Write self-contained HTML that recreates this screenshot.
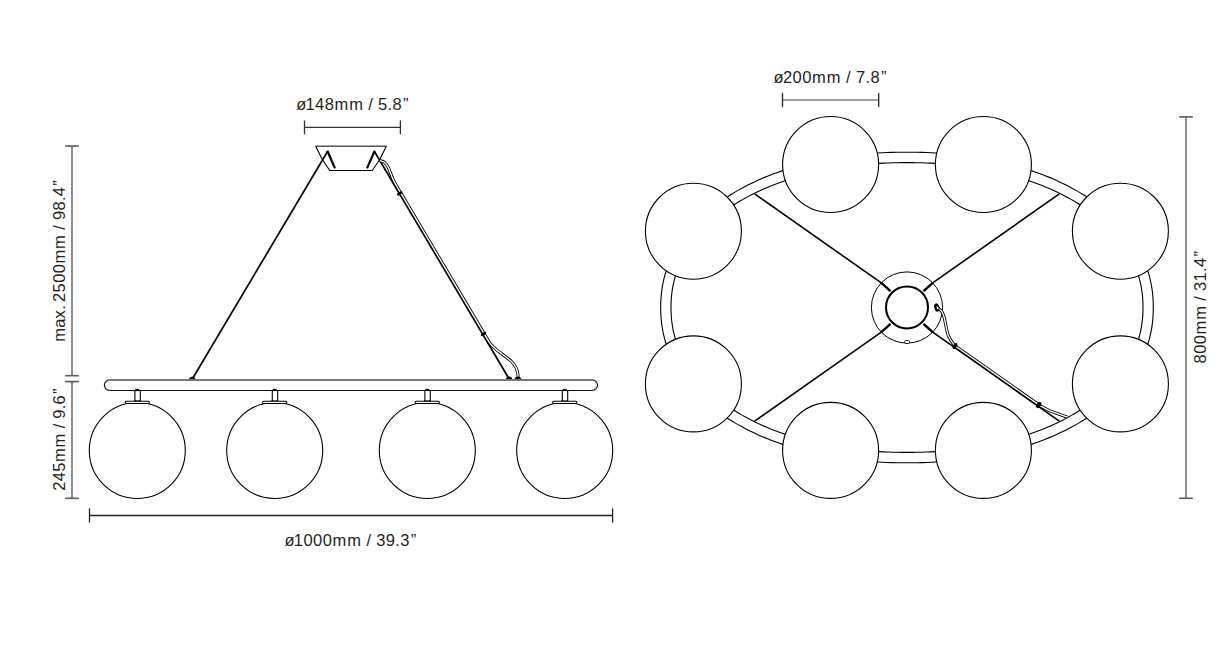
<!DOCTYPE html>
<html><head><meta charset="utf-8"><style>
html,body{margin:0;padding:0;background:#fff;width:1227px;height:658px;overflow:hidden}
svg{display:block}
text{font-family:"Liberation Sans",sans-serif}
</style></head><body>
<svg width="1227" height="658" viewBox="0 0 1227 658">
<line x1="72" y1="146.0" x2="72" y2="375.7" stroke="#888" stroke-width="1.9"/><line x1="65.15" y1="146.0" x2="78.85" y2="146.0" stroke="#5a5a5a" stroke-width="1.6"/><line x1="65.15" y1="375.7" x2="78.85" y2="375.7" stroke="#5a5a5a" stroke-width="1.6"/>
<line x1="72" y1="381.6" x2="72" y2="498.3" stroke="#888" stroke-width="1.9"/><line x1="65.15" y1="381.6" x2="78.85" y2="381.6" stroke="#5a5a5a" stroke-width="1.6"/><line x1="65.15" y1="498.3" x2="78.85" y2="498.3" stroke="#5a5a5a" stroke-width="1.6"/>
<line x1="89.5" y1="515.5" x2="612.6" y2="515.5" stroke="#222" stroke-width="1.3"/><line x1="89.5" y1="508.4" x2="89.5" y2="522.6" stroke="#222" stroke-width="1.3"/><line x1="612.6" y1="508.4" x2="612.6" y2="522.6" stroke="#222" stroke-width="1.3"/>
<line x1="304.5" y1="127.4" x2="400.4" y2="127.4" stroke="#333" stroke-width="1.3"/><line x1="304.5" y1="120.4" x2="304.5" y2="134.4" stroke="#333" stroke-width="1.3"/><line x1="400.4" y1="120.4" x2="400.4" y2="134.4" stroke="#333" stroke-width="1.3"/>
<line x1="782.5" y1="100" x2="878.7" y2="100" stroke="#808080" stroke-width="1.4"/><line x1="782.5" y1="92.9" x2="782.5" y2="107.1" stroke="#333" stroke-width="1.4"/><line x1="878.7" y1="92.9" x2="878.7" y2="107.1" stroke="#333" stroke-width="1.4"/>
<line x1="1186" y1="116.9" x2="1186" y2="498.3" stroke="#888" stroke-width="1.9"/><line x1="1179.15" y1="116.9" x2="1192.85" y2="116.9" stroke="#5a5a5a" stroke-width="1.6"/><line x1="1179.15" y1="498.3" x2="1192.85" y2="498.3" stroke="#5a5a5a" stroke-width="1.6"/>
<g fill="none" stroke="#000" stroke-width="1.1" stroke-linejoin="round">
<line x1="315.1" y1="146.2" x2="386.8" y2="146.2" stroke="#555" stroke-width="1.4"/>
<polyline points="315.8,146.5 322.6,160 329.7,170.5 372.3,170.5 379.4,160 386.2,146.5" stroke-width="1.1"/>
</g>
<g stroke="#000" stroke-width="1.7" fill="none" stroke-linecap="butt" stroke-linejoin="round">
<polyline points="192.3,379 327.7,151.2"/>
<polyline points="509.2,379 374.3,151.2"/>
<polyline points="327.3,150.8 335,168.4" stroke-width="2.2"/>
<polyline points="374.7,150.8 367,168.4" stroke-width="2.2"/>
</g>
<path d="M379.90,160.60 C380.65,160.87 383.07,161.18 384.40,162.20 C385.73,163.22 386.93,165.05 387.90,166.70 C388.87,168.35 389.38,170.07 390.20,172.10 C391.02,174.13 391.73,176.58 392.80,178.90 C393.87,181.22 395.31,183.72 396.60,186.00 C397.90,188.28 399.91,191.50 400.57,192.60 L483.95,333.4 C485.26,335.42 488.73,342.03 491.80,345.50 C494.88,348.97 499.12,351.53 502.40,354.20 C505.68,356.87 509.22,359.22 511.50,361.50 C513.78,363.78 515.03,365.77 516.10,367.90 C517.17,370.03 517.60,372.48 517.90,374.30 C518.20,376.12 517.90,378.05 517.90,378.80" fill="none" stroke="#000" stroke-width="3.1"/>
<path d="M379.90,160.60 C380.65,160.87 383.07,161.18 384.40,162.20 C385.73,163.22 386.93,165.05 387.90,166.70 C388.87,168.35 389.38,170.07 390.20,172.10 C391.02,174.13 391.73,176.58 392.80,178.90 C393.87,181.22 395.31,183.72 396.60,186.00 C397.90,188.28 399.91,191.50 400.57,192.60 L483.95,333.4 C485.26,335.42 488.73,342.03 491.80,345.50 C494.88,348.97 499.12,351.53 502.40,354.20 C505.68,356.87 509.22,359.22 511.50,361.50 C513.78,363.78 515.03,365.77 516.10,367.90 C517.17,370.03 517.60,372.48 517.90,374.30 C518.20,376.12 517.90,378.05 517.90,378.80" fill="none" stroke="#fff" stroke-width="1.35"/>
<g fill="#000"><ellipse cx="399.7" cy="193.4" rx="3.1" ry="1.5" transform="rotate(-30.6 399.7 193.4)"/><ellipse cx="483.5" cy="334.0" rx="3.1" ry="1.5" transform="rotate(-30.6 483.5 334.0)"/><path d="M188.8,380 Q189.5,376.8 192.3,376.8 Q195.1,376.8 195.8,380Z"/><path d="M505.6,380 Q506.3,376.6 509.1,376.6 Q511.9,376.6 512.6,380Z"/><path d="M514.4,380 Q515.1,376.6 517.9,376.6 Q520.7,376.6 521.6,380Z"/></g>
<path d="M109.7,390.4 A5.3,5.3 0 0 1 109.7,379.8" fill="none" stroke="#111" stroke-width="1.2"/>
<path d="M592.2,379.8 A5.3,5.3 0 0 1 592.2,390.4" fill="none" stroke="#111" stroke-width="1.2"/>
<line x1="109.7" y1="380" x2="592.2" y2="380" stroke="#777" stroke-width="1.9"/>
<line x1="109.7" y1="390.45" x2="592.2" y2="390.45" stroke="#111" stroke-width="1.1"/>
<circle cx="137.30" cy="450.5" r="48" fill="none" stroke="#000" stroke-width="1.1"/>
<line x1="134.90" y1="390.3" x2="134.90" y2="401" stroke="#000" stroke-width="1.1"/>
<line x1="140.30" y1="390.3" x2="140.30" y2="401" stroke="#000" stroke-width="1.1"/>
<rect x="125.20" y="401.3" width="24.2" height="2.2" rx="1.1" fill="#fff" stroke="#000" stroke-width="1.1"/>
<path d="M134.70,390.6 Q134.70,388.7 137.30,388.7 Q139.90,388.7 139.90,390.6Z" fill="#000"/>
<path d="M133.50,401.2 Q134.40,400.8 134.40,399.6 L135.10,400.6 L139.50,400.6 L140.20,399.6 Q140.20,400.8 141.10,401.2Z" fill="#000"/>
<circle cx="274.70" cy="450.5" r="48" fill="none" stroke="#000" stroke-width="1.1"/>
<line x1="272.30" y1="390.3" x2="272.30" y2="401" stroke="#000" stroke-width="1.1"/>
<line x1="277.70" y1="390.3" x2="277.70" y2="401" stroke="#000" stroke-width="1.1"/>
<rect x="262.60" y="401.3" width="24.2" height="2.2" rx="1.1" fill="#fff" stroke="#000" stroke-width="1.1"/>
<path d="M272.10,390.6 Q272.10,388.7 274.70,388.7 Q277.30,388.7 277.30,390.6Z" fill="#000"/>
<path d="M270.90,401.2 Q271.80,400.8 271.80,399.6 L272.50,400.6 L276.90,400.6 L277.60,399.6 Q277.60,400.8 278.50,401.2Z" fill="#000"/>
<circle cx="427.30" cy="450.5" r="48" fill="none" stroke="#000" stroke-width="1.1"/>
<line x1="424.90" y1="390.3" x2="424.90" y2="401" stroke="#000" stroke-width="1.1"/>
<line x1="430.30" y1="390.3" x2="430.30" y2="401" stroke="#000" stroke-width="1.1"/>
<rect x="415.20" y="401.3" width="24.2" height="2.2" rx="1.1" fill="#fff" stroke="#000" stroke-width="1.1"/>
<path d="M424.70,390.6 Q424.70,388.7 427.30,388.7 Q429.90,388.7 429.90,390.6Z" fill="#000"/>
<path d="M423.50,401.2 Q424.40,400.8 424.40,399.6 L425.10,400.6 L429.50,400.6 L430.20,399.6 Q430.20,400.8 431.10,401.2Z" fill="#000"/>
<circle cx="564.70" cy="450.5" r="48" fill="none" stroke="#000" stroke-width="1.1"/>
<line x1="562.30" y1="390.3" x2="562.30" y2="401" stroke="#000" stroke-width="1.1"/>
<line x1="567.70" y1="390.3" x2="567.70" y2="401" stroke="#000" stroke-width="1.1"/>
<rect x="552.60" y="401.3" width="24.2" height="2.2" rx="1.1" fill="#fff" stroke="#000" stroke-width="1.1"/>
<path d="M562.10,390.6 Q562.10,388.7 564.70,388.7 Q567.30,388.7 567.30,390.6Z" fill="#000"/>
<path d="M560.90,401.2 Q561.80,400.8 561.80,399.6 L562.50,400.6 L566.90,400.6 L567.60,399.6 Q567.60,400.8 568.50,401.2Z" fill="#000"/>
<path d="M1153.30,307.50 L1153.26,310.91 L1153.16,314.05 L1152.98,317.10 L1152.73,320.10 L1152.42,323.04 L1152.03,325.95 L1151.57,328.82 L1151.04,331.67 L1150.44,334.48 L1149.77,337.28 L1149.03,340.05 L1148.22,342.79 L1147.34,345.51 L1146.39,348.21 L1145.37,350.89 L1144.29,353.55 L1143.13,356.18 L1141.91,358.79 L1140.62,361.38 L1139.26,363.94 L1137.84,366.48 L1136.34,369.00 L1134.79,371.50 L1133.16,373.97 L1131.47,376.41 L1129.71,378.83 L1127.89,381.23 L1126.01,383.60 L1124.06,385.94 L1122.05,388.26 L1119.97,390.55 L1117.83,392.81 L1115.63,395.04 L1113.37,397.25 L1111.05,399.42 L1108.67,401.57 L1106.22,403.69 L1103.72,405.77 L1101.16,407.83 L1098.54,409.85 L1095.87,411.85 L1093.14,413.81 L1090.35,415.73 L1087.51,417.63 L1084.61,419.49 L1081.66,421.32 L1078.65,423.11 L1075.60,424.87 L1072.49,426.59 L1069.33,428.28 L1066.12,429.93 L1062.86,431.54 L1059.55,433.12 L1056.19,434.66 L1052.79,436.16 L1049.34,437.62 L1045.84,439.05 L1042.30,440.44 L1038.71,441.78 L1035.08,443.09 L1031.40,444.36 L1027.69,445.59 L1023.93,446.78 L1020.13,447.93 L1016.29,449.04 L1012.41,450.10 L1008.49,451.13 L1004.54,452.11 L1000.54,453.05 L996.51,453.95 L992.45,454.81 L988.34,455.62 L984.20,456.39 L980.03,457.12 L975.82,457.80 L971.57,458.44 L967.29,459.04 L962.97,459.60 L958.62,460.11 L954.23,460.57 L949.80,461.00 L945.33,461.37 L940.81,461.71 L936.26,462.00 L931.65,462.24 L926.98,462.44 L922.23,462.60 L917.39,462.71 L912.41,462.78 L907.00,462.80 L901.59,462.78 L896.61,462.71 L891.77,462.60 L887.02,462.44 L882.35,462.24 L877.74,462.00 L873.19,461.71 L868.67,461.37 L864.20,461.00 L859.77,460.57 L855.38,460.11 L851.03,459.60 L846.71,459.04 L842.43,458.44 L838.18,457.80 L833.97,457.12 L829.80,456.39 L825.66,455.62 L821.55,454.81 L817.49,453.95 L813.46,453.05 L809.46,452.11 L805.51,451.13 L801.59,450.10 L797.71,449.04 L793.87,447.93 L790.07,446.78 L786.31,445.59 L782.60,444.36 L778.92,443.09 L775.29,441.78 L771.70,440.44 L768.16,439.05 L764.66,437.62 L761.21,436.16 L757.81,434.66 L754.45,433.12 L751.14,431.54 L747.88,429.93 L744.67,428.28 L741.51,426.59 L738.40,424.87 L735.35,423.11 L732.34,421.32 L729.39,419.49 L726.49,417.63 L723.65,415.73 L720.86,413.81 L718.13,411.85 L715.46,409.85 L712.84,407.83 L710.28,405.77 L707.78,403.69 L705.33,401.57 L702.95,399.42 L700.63,397.25 L698.37,395.04 L696.17,392.81 L694.03,390.55 L691.95,388.26 L689.94,385.94 L687.99,383.60 L686.11,381.23 L684.29,378.83 L682.53,376.41 L680.84,373.97 L679.21,371.50 L677.66,369.00 L676.16,366.48 L674.74,363.94 L673.38,361.38 L672.09,358.79 L670.87,356.18 L669.71,353.55 L668.63,350.89 L667.61,348.21 L666.66,345.51 L665.78,342.79 L664.97,340.05 L664.23,337.28 L663.56,334.48 L662.96,331.67 L662.43,328.82 L661.97,325.95 L661.58,323.04 L661.27,320.10 L661.02,317.10 L660.84,314.05 L660.74,310.91 L660.70,307.50 L660.74,304.09 L660.84,300.95 L661.02,297.90 L661.27,294.90 L661.58,291.96 L661.97,289.05 L662.43,286.18 L662.96,283.33 L663.56,280.52 L664.23,277.72 L664.97,274.95 L665.78,272.21 L666.66,269.49 L667.61,266.79 L668.63,264.11 L669.71,261.45 L670.87,258.82 L672.09,256.21 L673.38,253.62 L674.74,251.06 L676.16,248.52 L677.66,246.00 L679.21,243.50 L680.84,241.03 L682.53,238.59 L684.29,236.17 L686.11,233.77 L687.99,231.40 L689.94,229.06 L691.95,226.74 L694.03,224.45 L696.17,222.19 L698.37,219.96 L700.63,217.75 L702.95,215.58 L705.33,213.43 L707.78,211.31 L710.28,209.23 L712.84,207.17 L715.46,205.15 L718.13,203.15 L720.86,201.19 L723.65,199.27 L726.49,197.37 L729.39,195.51 L732.34,193.68 L735.35,191.89 L738.40,190.13 L741.51,188.41 L744.67,186.72 L747.88,185.07 L751.14,183.46 L754.45,181.88 L757.81,180.34 L761.21,178.84 L764.66,177.38 L768.16,175.95 L771.70,174.56 L775.29,173.22 L778.92,171.91 L782.60,170.64 L786.31,169.41 L790.07,168.22 L793.87,167.07 L797.71,165.96 L801.59,164.90 L805.51,163.87 L809.46,162.89 L813.46,161.95 L817.49,161.05 L821.55,160.19 L825.66,159.38 L829.80,158.61 L833.97,157.88 L838.18,157.20 L842.43,156.56 L846.71,155.96 L851.03,155.40 L855.38,154.89 L859.77,154.43 L864.20,154.00 L868.67,153.63 L873.19,153.29 L877.74,153.00 L882.35,152.76 L887.02,152.56 L891.77,152.40 L896.61,152.29 L901.59,152.22 L907.00,152.20 L912.41,152.22 L917.39,152.29 L922.23,152.40 L926.98,152.56 L931.65,152.76 L936.26,153.00 L940.81,153.29 L945.33,153.63 L949.80,154.00 L954.23,154.43 L958.62,154.89 L962.97,155.40 L967.29,155.96 L971.57,156.56 L975.82,157.20 L980.03,157.88 L984.20,158.61 L988.34,159.38 L992.45,160.19 L996.51,161.05 L1000.54,161.95 L1004.54,162.89 L1008.49,163.87 L1012.41,164.90 L1016.29,165.96 L1020.13,167.07 L1023.93,168.22 L1027.69,169.41 L1031.40,170.64 L1035.08,171.91 L1038.71,173.22 L1042.30,174.56 L1045.84,175.95 L1049.34,177.38 L1052.79,178.84 L1056.19,180.34 L1059.55,181.88 L1062.86,183.46 L1066.12,185.07 L1069.33,186.72 L1072.49,188.41 L1075.60,190.13 L1078.65,191.89 L1081.66,193.68 L1084.61,195.51 L1087.51,197.37 L1090.35,199.27 L1093.14,201.19 L1095.87,203.15 L1098.54,205.15 L1101.16,207.17 L1103.72,209.23 L1106.22,211.31 L1108.67,213.43 L1111.05,215.58 L1113.37,217.75 L1115.63,219.96 L1117.83,222.19 L1119.97,224.45 L1122.05,226.74 L1124.06,229.06 L1126.01,231.40 L1127.89,233.77 L1129.71,236.17 L1131.47,238.59 L1133.16,241.03 L1134.79,243.50 L1136.34,246.00 L1137.84,248.52 L1139.26,251.06 L1140.62,253.62 L1141.91,256.21 L1143.13,258.82 L1144.29,261.45 L1145.37,264.11 L1146.39,266.79 L1147.34,269.49 L1148.22,272.21 L1149.03,274.95 L1149.77,277.72 L1150.44,280.52 L1151.04,283.33 L1151.57,286.18 L1152.03,289.05 L1152.42,291.96 L1152.73,294.90 L1152.98,297.90 L1153.16,300.95 L1153.26,304.09Z" fill="none" stroke="#000" stroke-width="1.1"/>
<path d="M1143.00,307.50 L1142.97,310.68 L1142.86,313.61 L1142.69,316.46 L1142.46,319.25 L1142.15,322.00 L1141.78,324.71 L1141.34,327.39 L1140.83,330.05 L1140.26,332.68 L1139.62,335.28 L1138.91,337.87 L1138.13,340.43 L1137.29,342.97 L1136.38,345.49 L1135.41,347.98 L1134.37,350.46 L1133.26,352.92 L1132.09,355.35 L1130.85,357.77 L1129.55,360.16 L1128.18,362.53 L1126.75,364.88 L1125.26,367.21 L1123.70,369.51 L1122.08,371.80 L1120.40,374.06 L1118.66,376.29 L1116.85,378.50 L1114.98,380.69 L1113.05,382.85 L1111.06,384.99 L1109.02,387.10 L1106.91,389.18 L1104.74,391.24 L1102.52,393.27 L1100.23,395.27 L1097.89,397.25 L1095.50,399.19 L1093.04,401.11 L1090.53,403.00 L1087.97,404.86 L1085.35,406.69 L1082.68,408.49 L1079.96,410.25 L1077.18,411.99 L1074.36,413.69 L1071.48,415.37 L1068.55,417.01 L1065.57,418.61 L1062.54,420.19 L1059.46,421.73 L1056.34,423.23 L1053.17,424.70 L1049.95,426.14 L1046.69,427.54 L1043.38,428.91 L1040.03,430.24 L1036.64,431.53 L1033.20,432.79 L1029.72,434.01 L1026.20,435.20 L1022.64,436.34 L1019.04,437.45 L1015.40,438.52 L1011.72,439.56 L1008.00,440.55 L1004.25,441.51 L1000.46,442.43 L996.63,443.30 L992.77,444.14 L988.87,444.94 L984.94,445.70 L980.97,446.42 L976.97,447.10 L972.94,447.74 L968.87,448.34 L964.77,448.89 L960.63,449.41 L956.46,449.89 L952.25,450.32 L948.01,450.72 L943.72,451.07 L939.40,451.38 L935.03,451.65 L930.62,451.88 L926.14,452.07 L921.60,452.21 L916.96,452.32 L912.18,452.38 L907.00,452.40 L901.82,452.38 L897.04,452.32 L892.40,452.21 L887.86,452.07 L883.38,451.88 L878.97,451.65 L874.60,451.38 L870.28,451.07 L865.99,450.72 L861.75,450.32 L857.54,449.89 L853.37,449.41 L849.23,448.89 L845.13,448.34 L841.06,447.74 L837.03,447.10 L833.03,446.42 L829.06,445.70 L825.13,444.94 L821.23,444.14 L817.37,443.30 L813.54,442.43 L809.75,441.51 L806.00,440.55 L802.28,439.56 L798.60,438.52 L794.96,437.45 L791.36,436.34 L787.80,435.20 L784.28,434.01 L780.80,432.79 L777.36,431.53 L773.97,430.24 L770.62,428.91 L767.31,427.54 L764.05,426.14 L760.83,424.70 L757.66,423.23 L754.54,421.73 L751.46,420.19 L748.43,418.61 L745.45,417.01 L742.52,415.37 L739.64,413.69 L736.82,411.99 L734.04,410.25 L731.32,408.49 L728.65,406.69 L726.03,404.86 L723.47,403.00 L720.96,401.11 L718.50,399.19 L716.11,397.25 L713.77,395.27 L711.48,393.27 L709.26,391.24 L707.09,389.18 L704.98,387.10 L702.94,384.99 L700.95,382.85 L699.02,380.69 L697.15,378.50 L695.34,376.29 L693.60,374.06 L691.92,371.80 L690.30,369.51 L688.74,367.21 L687.25,364.88 L685.82,362.53 L684.45,360.16 L683.15,357.77 L681.91,355.35 L680.74,352.92 L679.63,350.46 L678.59,347.98 L677.62,345.49 L676.71,342.97 L675.87,340.43 L675.09,337.87 L674.38,335.28 L673.74,332.68 L673.17,330.05 L672.66,327.39 L672.22,324.71 L671.85,322.00 L671.54,319.25 L671.31,316.46 L671.14,313.61 L671.03,310.68 L671.00,307.50 L671.03,304.32 L671.14,301.39 L671.31,298.54 L671.54,295.75 L671.85,293.00 L672.22,290.29 L672.66,287.61 L673.17,284.95 L673.74,282.32 L674.38,279.72 L675.09,277.13 L675.87,274.57 L676.71,272.03 L677.62,269.51 L678.59,267.02 L679.63,264.54 L680.74,262.08 L681.91,259.65 L683.15,257.23 L684.45,254.84 L685.82,252.47 L687.25,250.12 L688.74,247.79 L690.30,245.49 L691.92,243.20 L693.60,240.94 L695.34,238.71 L697.15,236.50 L699.02,234.31 L700.95,232.15 L702.94,230.01 L704.98,227.90 L707.09,225.82 L709.26,223.76 L711.48,221.73 L713.77,219.73 L716.11,217.75 L718.50,215.81 L720.96,213.89 L723.47,212.00 L726.03,210.14 L728.65,208.31 L731.32,206.51 L734.04,204.75 L736.82,203.01 L739.64,201.31 L742.52,199.63 L745.45,197.99 L748.43,196.39 L751.46,194.81 L754.54,193.27 L757.66,191.77 L760.83,190.30 L764.05,188.86 L767.31,187.46 L770.62,186.09 L773.97,184.76 L777.36,183.47 L780.80,182.21 L784.28,180.99 L787.80,179.80 L791.36,178.66 L794.96,177.55 L798.60,176.48 L802.28,175.44 L806.00,174.45 L809.75,173.49 L813.54,172.57 L817.37,171.70 L821.23,170.86 L825.13,170.06 L829.06,169.30 L833.03,168.58 L837.03,167.90 L841.06,167.26 L845.13,166.66 L849.23,166.11 L853.37,165.59 L857.54,165.11 L861.75,164.68 L865.99,164.28 L870.28,163.93 L874.60,163.62 L878.97,163.35 L883.38,163.12 L887.86,162.93 L892.40,162.79 L897.04,162.68 L901.82,162.62 L907.00,162.60 L912.18,162.62 L916.96,162.68 L921.60,162.79 L926.14,162.93 L930.62,163.12 L935.03,163.35 L939.40,163.62 L943.72,163.93 L948.01,164.28 L952.25,164.68 L956.46,165.11 L960.63,165.59 L964.77,166.11 L968.87,166.66 L972.94,167.26 L976.97,167.90 L980.97,168.58 L984.94,169.30 L988.87,170.06 L992.77,170.86 L996.63,171.70 L1000.46,172.57 L1004.25,173.49 L1008.00,174.45 L1011.72,175.44 L1015.40,176.48 L1019.04,177.55 L1022.64,178.66 L1026.20,179.80 L1029.72,180.99 L1033.20,182.21 L1036.64,183.47 L1040.03,184.76 L1043.38,186.09 L1046.69,187.46 L1049.95,188.86 L1053.17,190.30 L1056.34,191.77 L1059.46,193.27 L1062.54,194.81 L1065.57,196.39 L1068.55,197.99 L1071.48,199.63 L1074.36,201.31 L1077.18,203.01 L1079.96,204.75 L1082.68,206.51 L1085.35,208.31 L1087.97,210.14 L1090.53,212.00 L1093.04,213.89 L1095.50,215.81 L1097.89,217.75 L1100.23,219.73 L1102.52,221.73 L1104.74,223.76 L1106.91,225.82 L1109.02,227.90 L1111.06,230.01 L1113.05,232.15 L1114.98,234.31 L1116.85,236.50 L1118.66,238.71 L1120.40,240.94 L1122.08,243.20 L1123.70,245.49 L1125.26,247.79 L1126.75,250.12 L1128.18,252.47 L1129.55,254.84 L1130.85,257.23 L1132.09,259.65 L1133.26,262.08 L1134.37,264.54 L1135.41,267.02 L1136.38,269.51 L1137.29,272.03 L1138.13,274.57 L1138.91,277.13 L1139.62,279.72 L1140.26,282.32 L1140.83,284.95 L1141.34,287.61 L1141.78,290.29 L1142.15,293.00 L1142.46,295.75 L1142.69,298.54 L1142.86,301.39 L1142.97,304.32Z" fill="none" stroke="#000" stroke-width="1.1"/>
<circle cx="693.4" cy="231.2" r="48" fill="#fff" stroke="#000" stroke-width="1.1"/>
<circle cx="830.6" cy="164.5" r="48" fill="#fff" stroke="#000" stroke-width="1.1"/>
<circle cx="983.4" cy="164.5" r="48" fill="#fff" stroke="#000" stroke-width="1.1"/>
<circle cx="1120.4" cy="231.2" r="48" fill="#fff" stroke="#000" stroke-width="1.1"/>
<circle cx="1120.4" cy="383.9" r="48" fill="#fff" stroke="#000" stroke-width="1.1"/>
<circle cx="983.4" cy="450.4" r="48" fill="#fff" stroke="#000" stroke-width="1.1"/>
<circle cx="830.6" cy="450.4" r="48" fill="#fff" stroke="#000" stroke-width="1.1"/>
<circle cx="693.4" cy="383.9" r="48" fill="#fff" stroke="#000" stroke-width="1.1"/>
<circle cx="907" cy="307.5" r="35.6" fill="none" stroke="#000" stroke-width="1"/>
<circle cx="907" cy="307.4" r="21" fill="none" stroke="#000" stroke-width="2"/>
<line x1="1059.30" y1="421.10" x2="932.70" y2="332.10" stroke="#000" stroke-width="1.6"/>
<line x1="932.70" y1="332.10" x2="923.50" y2="323.80" stroke="#000" stroke-width="2.4"/>
<line x1="1059.30" y1="193.90" x2="932.70" y2="282.90" stroke="#000" stroke-width="1.6"/>
<line x1="932.70" y1="282.90" x2="923.50" y2="291.20" stroke="#000" stroke-width="2.4"/>
<line x1="754.70" y1="421.10" x2="881.30" y2="332.10" stroke="#000" stroke-width="1.6"/>
<line x1="881.30" y1="332.10" x2="890.50" y2="323.80" stroke="#000" stroke-width="2.4"/>
<line x1="754.70" y1="193.90" x2="881.30" y2="282.90" stroke="#000" stroke-width="1.6"/>
<line x1="881.30" y1="282.90" x2="890.50" y2="291.20" stroke="#000" stroke-width="2.4"/>
<path d="M938.00,307.80 C938.62,308.40 940.70,309.88 941.70,311.40 C942.70,312.92 943.32,314.62 944.00,316.90 C944.68,319.18 945.20,322.37 945.80,325.10 C946.40,327.83 946.92,331.02 947.60,333.30 C948.28,335.58 948.97,337.08 949.90,338.80 C950.83,340.52 952.12,342.27 953.20,343.60 C954.28,344.94 955.87,346.27 956.40,346.81 L1040.4,405.86 L1049.3,410.6 L1067.4,417.2" fill="none" stroke="#000" stroke-width="3.1" stroke-linejoin="round"/>
<path d="M938.00,307.80 C938.62,308.40 940.70,309.88 941.70,311.40 C942.70,312.92 943.32,314.62 944.00,316.90 C944.68,319.18 945.20,322.37 945.80,325.10 C946.40,327.83 946.92,331.02 947.60,333.30 C948.28,335.58 948.97,337.08 949.90,338.80 C950.83,340.52 952.12,342.27 953.20,343.60 C954.28,344.94 955.87,346.27 956.40,346.81 L1040.4,405.86 L1049.3,410.6 L1067.4,417.2" fill="none" stroke="#fff" stroke-width="1.35" stroke-linejoin="round"/>
<ellipse cx="936.8" cy="307.5" rx="2.5" ry="4.2" transform="rotate(-15 936.8 307.5)" fill="#000"/>
<ellipse cx="937.6" cy="307.9" rx="0.9" ry="1.6" transform="rotate(-30 937.6 307.9)" fill="#fff"/>
<g fill="#000"><ellipse cx="955.0" cy="346.0" rx="3.3" ry="1.7" transform="rotate(-55 955.0 346.0)"/><ellipse cx="1038.7" cy="405.0" rx="3.4" ry="2.1" transform="rotate(-55 1038.7 405.0)"/></g>
<rect x="904.6" y="340.5" width="5" height="3" rx="1.3" fill="#fff" stroke="#000" stroke-width="0.8"/>
<g font-family="Liberation Sans, sans-serif" font-size="16.5" fill="#231f20" text-anchor="middle">
<text x="301.25 310.08 319.66 329.25 341.37 356.05 364.83 370.62 376.41 382.64 389.86 397.07 405.75" y="109.90">ø148mm / 5.8”</text>
<text x="778.60 787.49 797.13 806.77 818.97 833.74 842.57 848.40 854.22 860.50 867.76 875.01 883.75" y="83.00">ø200mm / 7.8”</text>
<text x="289.60 298.45 308.05 317.65 327.25 339.40 354.10 362.90 368.70 374.50 380.75 390.35 397.57 404.80 413.50" y="545.90">ø1000mm / 39.3”</text>
<text transform="rotate(-90 64.80 334.95)" x="64.80 76.54 85.44 92.33 96.18 102.40 111.95 121.50 131.05 143.14 157.76 166.51 172.28 178.05 184.27 193.82 201.01 208.20 216.85" y="334.95">max. 2500mm / 98.4”</text>
<text transform="rotate(-90 64.80 486.20)" x="64.80 74.32 83.84 95.89 110.47 119.19 124.94 130.70 136.89 144.06 151.22 159.85" y="486.20">245mm / 9.6”</text>
<text transform="rotate(-90 1206.00 358.80)" x="1206.00 1215.55 1225.11 1237.20 1251.83 1260.59 1266.36 1272.13 1278.36 1287.91 1295.10 1302.29 1310.95" y="358.80">800mm / 31.4”</text>
</g>
</svg>
</body></html>
